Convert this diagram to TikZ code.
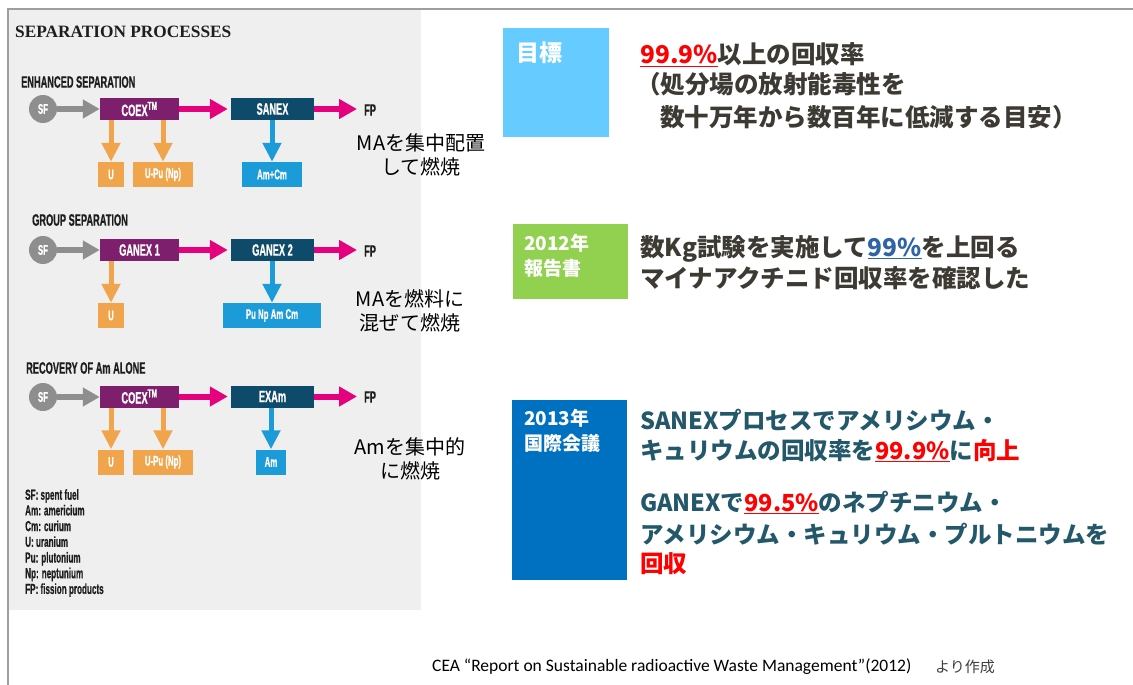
\documentclass[tikz,border=0pt]{standalone}
\usepackage{fontspec}
\usetikzlibrary{arrows.meta}
\setmainfont{Liberation Sans}
\newfontfamily\cond{Liberation Sans}[FakeStretch=0.56,FakeBold=0.6]
\newfontfamily\titlef{Liberation Serif}
\newfontfamily\jp{Noto Sans CJK JP}
\newfontfamily\foot{Carlito}
\definecolor{panelbg}{HTML}{EFEFEF}
\definecolor{framec}{HTML}{9E9E9E}
\definecolor{sfgray}{HTML}{8E8E8E}
\definecolor{coexc}{HTML}{7D1F6C}
\definecolor{sanexc}{HTML}{0E4A6A}
\definecolor{pinkc}{HTML}{E5007D}
\definecolor{orangec}{HTML}{F0A54C}
\definecolor{bluec}{HTML}{1C9BD9}
\definecolor{lightblue}{HTML}{66CCFF}
\definecolor{greenc}{HTML}{92D050}
\definecolor{boxblue}{HTML}{0070C0}
\definecolor{txtdark}{HTML}{3D3A33}
\definecolor{txtteal}{HTML}{22586A}
\definecolor{ulblue}{HTML}{2E64A6}
\definecolor{headc}{HTML}{1E1E1E}
\definecolor{redc}{HTML}{FF0000}
\newcommand\ulc[2]{\textcolor{#1}{\underline{#2}}}
\begin{document}
\begin{tikzpicture}[x=1pt,y=-1pt,
  sfc/.style={circle, fill=sfgray, minimum size=28pt, inner sep=0pt, text=white, font=\cond\bfseries\fontsize{14}{14}\selectfont},
  proc/.style={minimum width=79pt, minimum height=22pt, inner sep=0pt, text=white, font=\cond\bfseries\fontsize{16.5}{16.5}\selectfont},
  outo/.style={fill=orangec, minimum height=25pt, inner sep=0pt, text=white, font=\cond\bfseries\fontsize{14}{14}\selectfont},
  outb/.style={outo, fill=bluec},
  head/.style={anchor=west, inner sep=0pt, font=\cond\bfseries\fontsize{16.5}{16.5}\selectfont, text=headc},
  fpl/.style={anchor=west, inner sep=0pt, font=\cond\bfseries\fontsize{16.5}{16.5}\selectfont, text=headc},
  garr/.style={draw=sfgray, line width=6pt, -{Triangle[length=17pt,width=18pt]}},
  parr/.style={draw=pinkc, line width=6pt, -{Triangle[length=18pt,width=19pt]}},
  oarr/.style={draw=orangec, line width=5pt, -{Triangle[length=19pt,width=18pt]}},
  barr/.style={draw=bluec, line width=5pt, -{Triangle[length=19pt,width=18pt]}},
  lbl/.style={align=center, inner sep=0pt, font=\jp\fontsize{20}{24}\selectfont, text=black},
  tag/.style={anchor=west, inner sep=0pt, align=left, text=white, font=\jp\bfseries\fontsize{19}{25}\selectfont},
  jline/.style={anchor=base west, inner sep=0pt, font=\jp\bfseries\fontsize{24.5}{24}\selectfont, text=txtdark},
  tline/.style={anchor=base west, inner sep=0pt, font=\jp\bfseries\fontsize{23.5}{24}\selectfont, text=txtteal}
]
\useasboundingbox (0,0) rectangle (1133,685);
\fill[white] (0,0) rectangle (1133,685);
\fill[panelbg] (8,10) rectangle (421,610);
\draw[framec, line width=2pt] (7.5,685) -- (7.5,9) -- (1133,9);

\node[anchor=west, inner sep=0pt, font=\titlef\bfseries\fontsize{17.3}{17}\selectfont, text=headc] (title) at (15,32) {SEPARATION PROCESSES};

% Row 1
\node[head] (h1) at (21,82) {ENHANCED SEPARATION};
\node[sfc] (sf1) at (43,109) {SF};
\node[proc, fill=coexc] (coex1) at (139.5,109) {COEX\textsuperscript{TM}};
\node[proc, fill=sanexc, minimum width=83pt] (sanex1) at (272.5,109) {SANEX};
\node[fpl] (fp1) at (364,110) {FP};
\node[outo, minimum width=26pt] (u1) at (111,174.5) {U};
\node[outo, minimum width=60pt] (upu1) at (163,174.5) {U-Pu (Np)};
\node[outb, minimum width=60pt] (amcm1) at (272,174.5) {Am+Cm};
\draw[garr] (sf1.east) -- (sf1.east -| coex1.west);
\draw[parr] (coex1.east) -- ([xshift=-3pt]sanex1.west);
\draw[parr] (sanex1.east) -- ([xshift=-7pt]fp1.west |- sanex1.east);
\draw[oarr] (u1.north |- coex1.south) -- (u1.north);
\draw[oarr] (upu1.north |- coex1.south) -- (upu1.north);
\draw[barr] (amcm1.north |- sanex1.south) -- (amcm1.north);

% Row 2
\node[head] (h2) at (32,220) {GROUP SEPARATION};
\node[sfc] (sf2) at (43,250) {SF};
\node[proc, fill=coexc] (ganex1) at (139.5,250) {GANEX 1};
\node[proc, fill=sanexc, minimum width=83pt] (ganex2) at (272.5,250) {GANEX 2};
\node[fpl] (fp2) at (364,251) {FP};
\node[outo, minimum width=26pt] (u2) at (111,315.5) {U};
\node[outb, minimum width=98pt] (pnac) at (272,315.5) {Pu Np Am Cm};
\draw[garr] (sf2.east) -- (sf2.east -| ganex1.west);
\draw[parr] (ganex1.east) -- ([xshift=-3pt]ganex2.west);
\draw[parr] (ganex2.east) -- ([xshift=-7pt]fp2.west |- ganex2.east);
\draw[oarr] (u2.north |- ganex1.south) -- (u2.north);
\draw[barr] (pnac.north |- ganex2.south) -- (pnac.north);

% Row 3
\node[head] (h3) at (26,368) {RECOVERY OF Am ALONE};
\node[sfc] (sf3) at (43,397) {SF};
\node[proc, fill=coexc] (coex3) at (139.5,396.5) {COEX\textsuperscript{TM}};
\node[proc, fill=sanexc, minimum width=83pt] (exam) at (272.5,396.5) {EXAm};
\node[fpl] (fp3) at (364,397) {FP};
\node[outo, minimum width=26pt] (u3) at (111,462) {U};
\node[outo, minimum width=60pt] (upu3) at (163,462) {U-Pu (Np)};
\node[outb, minimum width=30pt] (am3) at (271,462) {Am};
\draw[garr] (sf3.east) -- (sf3.east -| coex3.west);
\draw[parr] (coex3.east) -- ([xshift=-3pt]exam.west);
\draw[parr] (exam.east) -- ([xshift=-7pt]fp3.west |- exam.east);
\draw[oarr] (u3.north |- coex3.south) -- (u3.north);
\draw[oarr] (upu3.north |- coex3.south) -- (upu3.north);
\draw[barr] (am3.north |- exam.south) -- (am3.north);

% Legend
\node[anchor=north west, align=left, inner sep=0pt, text=headc, font=\cond\bfseries\fontsize{14.5}{15.7}\selectfont] (legend) at (25,489) {SF: spent fuel\\Am: americium\\Cm: curium\\U: uranium\\Pu: plutonium\\Np: neptunium\\FP: fission products};

% Japanese labels in panel
\node[lbl] (lab1) at (421,155) {MAを集中配置\\して燃焼};
\node[lbl] (lab2) at (410,311) {MAを燃料に\\混ぜて燃焼};
\node[lbl] (lab3) at (410,458.5) {Amを集中的\\に燃焼};

% Block 1
\node[fill=lightblue, anchor=north west, minimum width=106pt, minimum height=109pt, inner sep=0pt] (box1) at (503,28) {};
\node[tag, font=\jp\bfseries\fontsize{23}{25}\selectfont] (tag1) at (516,53) {目標};
\node[jline] (l11) at (640,64) {\ulc{redc}{99.9\%}以上の回収率};
\node[jline] (l12) at (636,94) {（処分場の放射能毒性を};
\node[jline] (l13) at (660,126) {数十万年から数百年に低減する目安）};

% Block 2
\node[fill=greenc, anchor=north west, minimum width=115pt, minimum height=75pt, inner sep=0pt] (box2) at (513,224) {};
\node[tag] (tag2) at (524,256) {2012年\\報告書};
\node[jline] (l21) at (640,256) {数Kg試験を実施して\ulc{ulblue}{99\%}を上回る};
\node[jline] (l22) at (640,287) {マイナアクチニド回収率を確認した};

% Block 3
\node[fill=boxblue, anchor=north west, minimum width=115pt, minimum height=180pt, inner sep=0pt] (box3) at (512,400) {};
\node[tag] (tag3) at (524,431) {2013年\\国際会議};
\node[tline] (l31) at (640,429) {SANEXプロセスでアメリシウム・};
\node[tline] (l32) at (640,459) {キュリウムの回収率を\ulc{redc}{99.9\%}に\textcolor{redc}{向上}};
\node[tline] (l33) at (640,511) {GANEXで\ulc{redc}{99.5\%}のネプチニウム・};
\node[tline] (l34) at (640,543) {アメリシウム・キュリウム・プルトニウムを};
\node[tline] (l35) at (640,572) {\textcolor{redc}{回収}};

% Footer
\node[anchor=west, inner sep=0pt, font=\foot\fontsize{17.5}{17.5}\selectfont, text=black] (src) at (432,667) {CEA “Report on Sustainable radioactive Waste Management”(2012)};
\node[anchor=west, inner sep=0pt, font=\jp\fontsize{15}{15}\selectfont, text=black!75] (src2) at (935,667) {より作成};
\end{tikzpicture}
\end{document}
